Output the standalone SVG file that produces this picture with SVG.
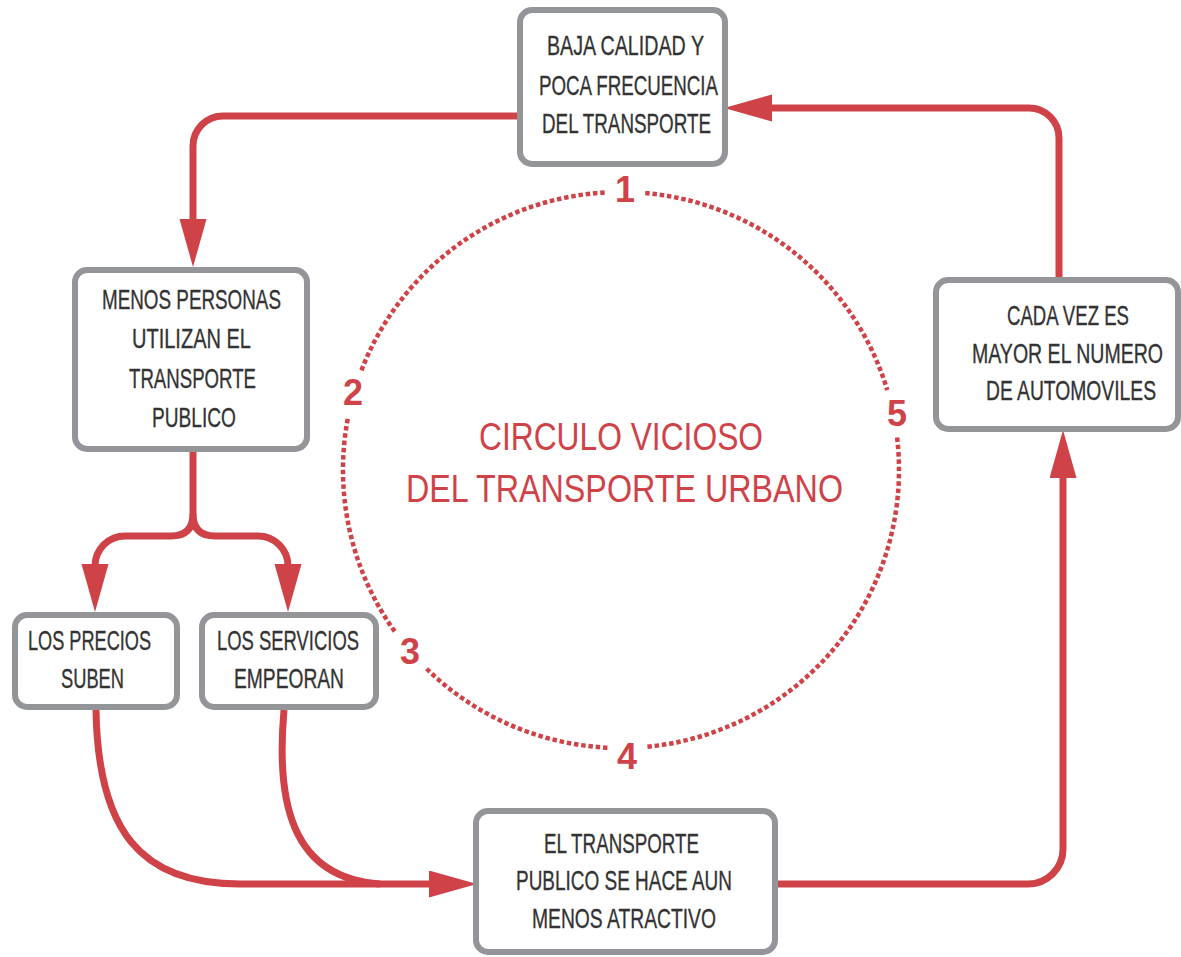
<svg xmlns="http://www.w3.org/2000/svg" width="1181" height="957" viewBox="0 0 1181 957">
<style>
.box{fill:#fff;stroke:#939598;stroke-width:6}
.lbl{font-family:"Liberation Sans Narrow","Liberation Sans",sans-serif;font-size:28.5px;fill:#333;stroke:#333;stroke-width:0.35;text-anchor:middle}
.ttl{font-family:"Liberation Sans Narrow","Liberation Sans",sans-serif;font-size:39px;fill:#cf4348;text-anchor:middle}
.num{font-family:"Liberation Sans Narrow","Liberation Sans",sans-serif;font-weight:bold;font-size:36px;fill:#cf4348;text-anchor:middle}
.con{fill:none;stroke:#cf4348;stroke-width:7}
.dot{fill:none;stroke:#cf4348;stroke-width:4.5;stroke-dasharray:4.5 2.8}
</style>
<defs>
<marker id="ah" markerUnits="userSpaceOnUse" markerWidth="50" markerHeight="28" refX="22" refY="13.5" orient="auto">
<path d="M0,0 L48,13.5 L0,27 z" fill="#cf4348"/>
</marker>
</defs>
<g id="connectors">
<path class="con" d="M518 116 H223 A30 30 0 0 0 193 146 V241" marker-end="url(#ah)"/>
<path class="con" d="M1059 277 V138 A30 30 0 0 0 1029 108 H750" marker-end="url(#ah)"/>
<path class="con" d="M193 450 V514 Q193 536 171 536 H125 A30 30 0 0 0 95 566 V586" marker-end="url(#ah)"/>
<path class="con" d="M193 514 Q193 536 215 536 H258 A30 30 0 0 1 288 566 V586" marker-end="url(#ah)"/>
<path class="con" d="M96 710 C98 830 140 884 240 884 H451" marker-end="url(#ah)"/>
<path class="con" d="M284 710 C276 800 290 878 380 884"/>
<path class="con" d="M778 884 H1028 A35 35 0 0 0 1063 849 V456" marker-end="url(#ah)"/>
</g>
<g id="cycle">
<path class="dot" d="M645.23 193.06 A278 278 0 0 1 887.27 390.11"/>
<path class="dot" d="M897.10 437.57 A278 278 0 0 1 646.20 746.85"/>
<path class="dot" d="M607.42 747.67 A278 278 0 0 1 426.15 668.28"/>
<path class="dot" d="M394.67 631.43 A278 278 0 0 1 348.11 416.95"/>
<path class="dot" d="M361.46 370.37 A278 278 0 0 1 606.45 192.38"/>
<text class="num" x="625" y="202">1</text>
<text class="num" x="353" y="405">2</text>
<text class="num" x="410" y="664">3</text>
<text class="num" x="627" y="769">4</text>
<text class="num" x="897" y="426">5</text>
<text class="ttl" x="621" y="450" textLength="284" lengthAdjust="spacingAndGlyphs">CIRCULO VICIOSO</text>
<text class="ttl" x="624.5" y="502" textLength="437" lengthAdjust="spacingAndGlyphs">DEL TRANSPORTE URBANO</text>
</g>
<g id="n1">
<rect class="box" x="520" y="10" width="205" height="154" rx="12"/>
<text class="lbl" x="625.5" y="55" textLength="157" lengthAdjust="spacingAndGlyphs">BAJA CALIDAD Y</text>
<text class="lbl" x="628.5" y="95" textLength="179" lengthAdjust="spacingAndGlyphs">POCA FRECUENCIA</text>
<text class="lbl" x="626.5" y="133" textLength="169" lengthAdjust="spacingAndGlyphs">DEL TRANSPORTE</text>
</g>
<g id="n2">
<rect class="box" x="75" y="270" width="232" height="179" rx="12"/>
<text class="lbl" x="191.5" y="309" textLength="179" lengthAdjust="spacingAndGlyphs">MENOS PERSONAS</text>
<text class="lbl" x="191.5" y="348" textLength="119" lengthAdjust="spacingAndGlyphs">UTILIZAN EL</text>
<text class="lbl" x="192.5" y="388" textLength="127" lengthAdjust="spacingAndGlyphs">TRANSPORTE</text>
<text class="lbl" x="194" y="427" textLength="84" lengthAdjust="spacingAndGlyphs">PUBLICO</text>
</g>
<g id="n3">
<rect class="box" x="15" y="615" width="162" height="92" rx="12"/>
<text class="lbl" x="89.5" y="650" textLength="123" lengthAdjust="spacingAndGlyphs">LOS PRECIOS</text>
<text class="lbl" x="92.5" y="688" textLength="63" lengthAdjust="spacingAndGlyphs">SUBEN</text>
</g>
<g id="n4">
<rect class="box" x="202" y="615" width="174" height="92" rx="12"/>
<text class="lbl" x="288" y="650" textLength="142" lengthAdjust="spacingAndGlyphs">LOS SERVICIOS</text>
<text class="lbl" x="289" y="688" textLength="110" lengthAdjust="spacingAndGlyphs">EMPEORAN</text>
</g>
<g id="n5">
<rect class="box" x="476" y="811" width="299" height="141" rx="12"/>
<text class="lbl" x="621.5" y="853" textLength="155" lengthAdjust="spacingAndGlyphs">EL TRANSPORTE</text>
<text class="lbl" x="624" y="890" textLength="216" lengthAdjust="spacingAndGlyphs">PUBLICO SE HACE AUN</text>
<text class="lbl" x="624" y="928" textLength="184" lengthAdjust="spacingAndGlyphs">MENOS ATRACTIVO</text>
</g>
<g id="n6">
<rect class="box" x="936" y="280" width="242" height="149" rx="12"/>
<text class="lbl" x="1068" y="325" textLength="122" lengthAdjust="spacingAndGlyphs">CADA VEZ ES</text>
<text class="lbl" x="1067.5" y="363" textLength="191" lengthAdjust="spacingAndGlyphs">MAYOR EL NUMERO</text>
<text class="lbl" x="1071" y="400" textLength="170" lengthAdjust="spacingAndGlyphs">DE AUTOMOVILES</text>
</g>
</svg>
